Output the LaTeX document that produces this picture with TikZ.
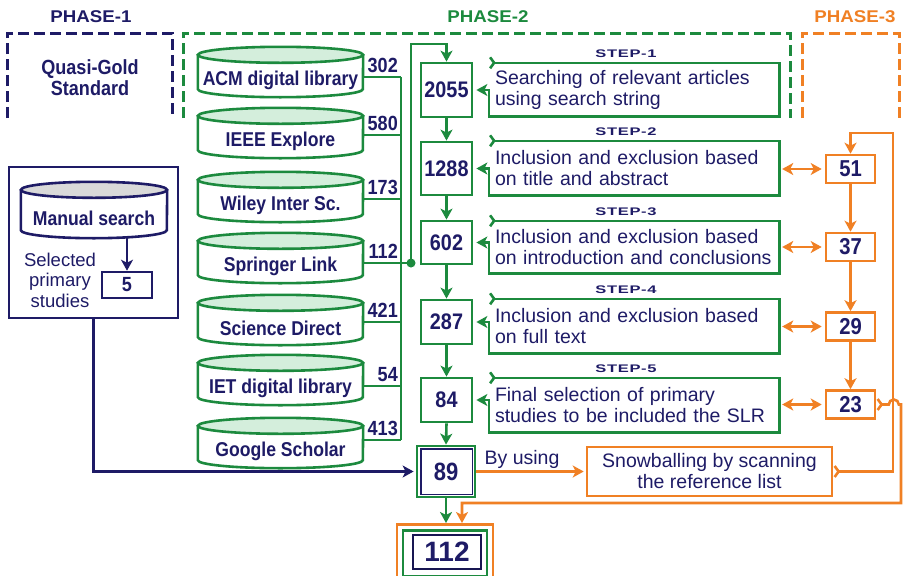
\documentclass[tikz,border=0pt]{standalone}
\usepackage{fontspec}
\setmainfont{Liberation Sans}
\newfontfamily\condb{Liberation Sans}[FakeStretch=0.88]
\newfontfamily\widef{Liberation Sans}[FakeStretch=1.5,LetterSpace=6]
\newfontfamily\phasef{Liberation Sans}[FakeStretch=1.1]
\usetikzlibrary{arrows.meta,calc}
\definecolor{navyc}{RGB}{30,27,102}
\definecolor{greenc}{RGB}{28,138,62}
\definecolor{orangec}{RGB}{240,128,36}
\definecolor{mintc}{RGB}{212,238,220}
\definecolor{grayc}{RGB}{217,217,217}
\newcommand{\fsz}[1]{\fontsize{#1}{21}\selectfont}
\newcommand{\dbshape}[4]{%
  \draw[line width=2.6pt, draw=#4, fill=white] ($(#1.north west)+(0,-8)$) -- ($(#1.south west)+(0,8)$) arc[start angle=180,end angle=360,x radius=#2,y radius=8] -- ($(#1.north east)+(0,-8)$);
  \draw[line width=2.6pt, draw=#4, fill=#3] ($(#1.north)+(0,-8)$) ellipse[x radius=#2,y radius=8];
}
\begin{document}
\begin{tikzpicture}[x=1pt,y=1pt,
  gline/.style={draw=greenc,line width=2.6pt},
  oline/.style={draw=orangec,line width=2.6pt},
  nline/.style={draw=navyc,line width=2.6pt},
  arr/.style={-{Stealth[length=11pt,width=12pt,inset=3pt]}},
  darr/.style={{Stealth[length=11pt,width=12pt,inset=3pt]}-{Stealth[length=11pt,width=12pt,inset=3pt]}},
  tailarr/.style={{Straight Barb[reversed,length=4pt,width=11pt]}-{Stealth[length=11pt,width=12pt,inset=3pt]}},
  phasedash/.style={dash pattern=on 11pt off 5pt, line width=3pt},
  phaselbl/.style={font=\phasef\bfseries\fsz{17}, inner sep=0},
  cylnode/.style={minimum width=165pt, minimum height=50pt, inner sep=0},
  dbtxt/.style={text=navyc, font=\condb\bfseries\fsz{20}, inner sep=0},
  enum/.style={text=navyc, font=\condb\bfseries\fsz{20.5}, inner sep=0, anchor=south east},
  nbox/.style={draw=greenc, line width=2.8pt, minimum width=51pt, inner sep=0, text=navyc, font=\condb\bfseries\fsz{22.5}},
  steptxt/.style={text=navyc, font=\fsz{19.5}, align=left, text width=278pt, minimum width=290pt, inner sep=0},
  steplbl/.style={text=navyc, font=\widef\bfseries\fsz{11}, inner sep=0},
  obox/.style={draw=orangec, line width=2.6pt, minimum width=49pt, minimum height=28pt, inner sep=0, text=navyc, font=\condb\bfseries\fsz{23}},
  regtxt/.style={text=navyc, font=\fsz{19.5}, inner sep=0}
]
\useasboundingbox (0,0) rectangle (903,-576);
\fill[white] (0,0) rectangle (903,-576);
\clip (0,0) rectangle (903,-576);

% phase labels and brackets
\node[phaselbl, text=navyc] (ph1) at (91,-17) {PHASE-1};
\node[phaselbl, text=greenc] (ph2) at (488,-17) {PHASE-2};
\node[phaselbl, text=orangec] (ph3) at (855,-17) {PHASE-3};
\draw[navyc, phasedash] (7,-118) -- (7,-33) -- (172,-33) -- (172,-118);
\draw[greenc, phasedash] (183,-118) -- (183,-33) -- (790,-33) -- (790,-118);
\draw[orangec, phasedash] (802,-118) -- (802,-33) -- (899,-33) -- (899,-118);

\node[text=navyc, font=\condb\bfseries\fsz{20.5}, align=center, inner sep=0] (qgs) at (90,-78) {Quasi-Gold\\Standard};

% phase 1 box
\node[draw=navyc, line width=2.8pt, minimum width=169pt, minimum height=151pt, inner sep=0] (p1box) at (93.5,-242.5) {};
\node[minimum width=146pt, minimum height=56pt, inner sep=0] (mcyl) at (94,-210) {};
\dbshape{mcyl}{73}{grayc}{navyc}
\node[dbtxt] (ms) at (94,-218) {Manual search};
\node[draw=navyc, line width=2.6pt, minimum width=50pt, minimum height=26pt, inner sep=0, text=navyc, font=\condb\bfseries\fsz{20.5}] (five) at (127,-285) {5};
\draw[nline, arr] (mcyl.south -| five.north) -- (five.north);
\node[text=navyc, font=\fontsize{18.5}{20.5}\selectfont, align=center, inner sep=0] (sel) at (60,-280) {Selected\\primary\\studies};

% databases
\node[cylnode] (acm) at (280.5,-72) {};
\node[cylnode] (ieee) at (280.5,-133) {};
\node[cylnode] (wiley) at (280.5,-197) {};
\node[cylnode] (spr) at (280.5,-258) {};
\node[cylnode] (sd) at (280.5,-320) {};
\node[cylnode] (iet) at (280.5,-380) {};
\node[cylnode] (gs) at (280.5,-443) {};
\dbshape{acm}{82.5}{mintc}{greenc}
\dbshape{ieee}{82.5}{mintc}{greenc}
\dbshape{wiley}{82.5}{mintc}{greenc}
\dbshape{spr}{82.5}{mintc}{greenc}
\dbshape{sd}{82.5}{mintc}{greenc}
\dbshape{iet}{82.5}{mintc}{greenc}
\dbshape{gs}{82.5}{mintc}{greenc}
\node[dbtxt] (acmT) at (280.5,-80) {ACM digital library};
\node[dbtxt] (ieeeT) at (280.5,-141) {IEEE Explore};
\node[dbtxt] (wileyT) at (280.5,-205) {Wiley Inter Sc.};
\node[dbtxt] (sprT) at (280.5,-266) {Springer Link};
\node[dbtxt] (sdT) at (280.5,-328) {Science Direct};
\node[dbtxt] (ietT) at (280.5,-388) {IET digital library};
\node[dbtxt] (gsT) at (280.5,-451) {Google Scholar};

\coordinate (bt) at (401,-77);
\coordinate (bb) at (401,-440);
\coordinate (dot) at (411,-263);
\coordinate (topl) at (411,-44);
\draw[gline] (bt) -- (bb);
\draw[gline] ([yshift=-5pt]acm.east) -- ([yshift=-5pt]acm.east -| bt);
\draw[gline] ([yshift=-2pt]ieee.east) -- ([yshift=-2pt]ieee.east -| bt);
\draw[gline] ([yshift=-2pt]wiley.east) -- ([yshift=-2pt]wiley.east -| bt);
\draw[gline] ([yshift=-5pt]spr.east) -- (dot);
\draw[gline] ([yshift=-2pt]sd.east) -- ([yshift=-2pt]sd.east -| bt);
\draw[gline] ([yshift=-6pt]iet.east) -- ([yshift=-6pt]iet.east -| bt);
\draw[gline] ([yshift=3pt]gs.east) -- ([yshift=3pt]gs.east -| bt);
\fill[greenc] (dot) circle (4.5pt);
\node[enum] (c1) at (398,-73) {302};
\node[enum] (c2) at (398,-131) {580};
\node[enum] (c3) at (398,-195) {173};
\node[enum] (c4) at (398,-259) {112};
\node[enum] (c5) at (398,-318) {421};
\node[enum] (c6) at (398,-382) {54};
\node[enum] (c7) at (398,-436) {413};

% number column
\node[nbox, minimum height=54pt] (n1) at (446.5,-90) {2055};
\node[nbox, minimum height=53pt] (n2) at (446.5,-168.5) {1288};
\node[nbox, minimum height=43pt] (n3) at (446.5,-242.5) {602};
\node[nbox, minimum height=44pt] (n4) at (446.5,-322) {287};
\node[nbox, minimum height=44pt] (n5) at (446.5,-400) {84};
\node[draw=greenc, line width=2.8pt, minimum width=58pt, minimum height=51pt, inner sep=0, text=navyc, font=\condb\bfseries\fsz{25}] (n6) at (446,-471.5) {89};
\draw[navyc, line width=1.8pt] ($(n6.south west)+(5,4)$) rectangle ($(n6.north east)+(-4,-4)$);

\draw[gline, arr] (dot) -- (topl) -- (topl -| n1.north) -- (n1.north);
\draw[gline, arr] (n1.south) -- (n2.north);
\draw[gline, arr] (n2.south) -- (n3.north);
\draw[gline, arr] (n3.south) -- (n4.north);
\draw[gline, arr] (n4.south) -- (n5.north);
\draw[gline, arr] (n5.south) -- (n6.north);

% final box
\node[draw=orangec, line width=2.8pt, minimum width=96pt, minimum height=60pt, inner sep=0, anchor=north] (fo) at (445,-523) {};
\node[draw=greenc, line width=2.8pt, minimum width=84pt, minimum height=46pt, inner sep=0, anchor=north] (fg) at (445,-529) {};
\node[draw=navyc!80!black, line width=2pt, minimum width=68pt, minimum height=34pt, inner sep=0, text=navyc, font=\bfseries\fsz{28}] (fin) at (447,-552) {112};
\draw[gline, arr] (n6.south) -- (n6.south |- fo.north);

% step boxes
\node[steptxt, minimum height=53pt] (s1) at (634,-89.5) {Searching of relevant articles\\using search string};
\node[steptxt, minimum height=54pt] (s2) at (634,-168) {Inclusion and exclusion based\\on title and abstract};
\node[steptxt, minimum height=52pt] (s3) at (634,-247) {Inclusion and exclusion based\\on introduction and conclusions};
\node[steptxt, minimum height=54pt] (s4) at (634,-326) {Inclusion and exclusion based\\on full text};
\node[steptxt, minimum height=54pt] (s5) at (634,-405) {Final selection of primary\\studies to be included the SLR};
\node[steplbl] (l1) at ($(s1.north)+(-8,9)$) {STEP-1};
\node[steplbl] (l2) at ($(s2.north)+(-8,9)$) {STEP-2};
\node[steplbl] (l3) at ($(s3.north)+(-8,9)$) {STEP-3};
\node[steplbl] (l4) at ($(s4.north)+(-8,9)$) {STEP-4};
\node[steplbl] (l5) at ($(s5.north)+(-8,9)$) {STEP-5};
\draw[gline, tailarr, shorten >=3pt] (s1.north west) -- (s1.north east) -- (s1.south east) -- (s1.south west) -- (s1.west |- n1.east) -- (n1.east);
\draw[gline, tailarr, shorten >=3pt] (s2.north west) -- (s2.north east) -- (s2.south east) -- (s2.south west) -- (s2.west |- n2.east) -- (n2.east);
\draw[gline, tailarr, shorten >=3pt] (s3.north west) -- (s3.north east) -- (s3.south east) -- (s3.south west) -- (s3.west |- n3.east) -- (n3.east);
\draw[gline, tailarr, shorten >=3pt] (s4.north west) -- (s4.north east) -- (s4.south east) -- (s4.south west) -- (s4.west |- n4.east) -- (n4.east);
\draw[gline, tailarr, shorten >=3pt] (s5.north west) -- (s5.north east) -- (s5.south east) -- (s5.south west) -- (s5.west |- n5.east) -- (n5.east);

% phase 3
\node[obox] (o1) at (850.5,-169) {51};
\node[obox] (o2) at (850.5,-247) {37};
\node[obox] (o3) at (850.5,-326.5) {29};
\node[obox] (o4) at (850.5,-404.5) {23};
\draw[oline, darr, shorten <=3pt, shorten >=3pt] (o1.west -| s2.east) -- (o1.west);
\draw[oline, darr, shorten <=3pt, shorten >=3pt] (o2.west -| s3.east) -- (o2.west);
\draw[oline, darr, shorten <=3pt, shorten >=3pt] (o3.west -| s4.east) -- (o3.west);
\draw[oline, darr, shorten <=3pt, shorten >=3pt] (o4.west -| s5.east) -- (o4.west);
\draw[oline, arr] (o1.south) -- (o2.north);
\draw[oline, arr] (o2.south) -- (o3.north);
\draw[oline, arr] (o3.south) -- (o4.north);

% snowballing
\node[draw=orangec, line width=2.6pt, minimum width=245pt, minimum height=49pt, inner sep=0, align=center, text=navyc, font=\fsz{19.5}] (sb) at (709.5,-471.5) {Snowballing by scanning\\the reference list};
\node[regtxt] (byu) at (522,-459) {By using};
\draw[oline, arr, shorten >=2pt] (n6.east) -- (sb.west);
\coordinate (lpA) at (893,-470);
\coordinate (lpB) at (893,-133);
\draw[oline, tailarr] (sb.east) -- (sb.east -| lpA) -- (lpB) -- (lpB -| o1.north) -- (o1.north);
\coordinate (rt) at (901,-404.5);
\coordinate (rb) at (901,-503);
\coordinate (fx) at (462,-503);
\draw[oline, tailarr] (o4.east) -- ++(12.5,0) arc[start angle=180,end angle=0,radius=5] -- (rt) -- (rb) -- (fx) -- (fx |- fo.north);

% manual search to 89
\draw[nline, arr, shorten >=2pt] (p1box.south) -- (p1box.south |- n6.west) -- (n6.west);
\end{tikzpicture}
\end{document}
